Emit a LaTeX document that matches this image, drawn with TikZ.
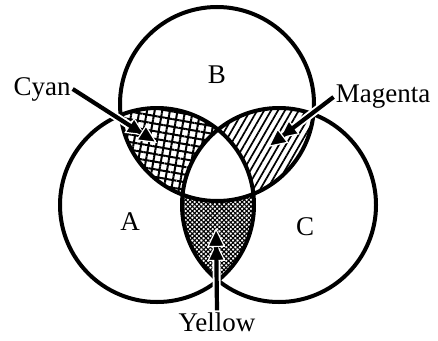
\documentclass[tikz,border=0pt]{standalone}
\usepackage{fontspec}
\setmainfont{Liberation Serif}
\usetikzlibrary{patterns.meta,arrows.meta}

\tikzset{
  ring/.style={line width=4pt},
  lbl/.style={font=\fontsize{27}{29}\selectfont, inner sep=2pt},
  pointer/.style={line width=4.2pt,
    preaction={draw=white, line width=8pt, shorten >=14pt},
    -{Triangle[length=19pt,width=18pt,line width=1.2pt,color=white,fill=black]}},
}

\begin{document}
\begin{tikzpicture}[x=1pt,y=-1pt]
  \useasboundingbox (0,0) rectangle (438,340);

  % Circle centres
  \coordinate (cA) at (157,205);
  \coordinate (cB) at (217,104);
  \coordinate (cC) at (279,205);
  \def\rad{97pt}

  % Cyan: A and B, not C
  \begin{scope}
    \clip (cA) circle (\rad);
    \clip (cB) circle (\rad);
    \fill[pattern={Hatch[angle=-10,distance=7.5pt,line width=2pt]}, even odd rule]
      (0,0) rectangle (438,340) (cC) circle (\rad);
  \end{scope}

  % Magenta: B and C, not A
  \begin{scope}
    \clip (cB) circle (\rad);
    \clip (cC) circle (\rad);
    \fill[pattern={Lines[angle=60,distance=6pt,line width=1.7pt]}, even odd rule]
      (0,0) rectangle (438,340) (cA) circle (\rad);
  \end{scope}

  % Yellow: A and C, not B
  \begin{scope}
    \clip (cA) circle (\rad);
    \clip (cC) circle (\rad);
    \fill[pattern={Hatch[angle=45,distance=3.2pt,line width=1.1pt]}, even odd rule]
      (0,0) rectangle (438,340) (cB) circle (\rad);
  \end{scope}

  % Circles
  \draw[ring] (cA) circle (\rad);
  \draw[ring] (cB) circle (\rad);
  \draw[ring] (cC) circle (\rad);

  % Set labels
  \node[lbl] (lblB) at (217,75) {B};
  \node[lbl] (lblA) at (130,222) {A};
  \node[lbl] (lblC) at (305,227) {C};

  % Colour labels and arrows
  \node[lbl] (lblCyan) at (42,89) {Cyan};
  \node[lbl] (lblMagenta) at (383,97) {Magenta};
  \node[lbl] (lblYellow) at (217,322) {Yellow};
  \coordinate (tipCyan) at (157,143);
  \coordinate (tipMagenta) at (268,147);
  \coordinate (tipYellow) at (216,228);
  \draw[pointer] (lblCyan.east) -- (tipCyan);
  \draw[pointer] (lblMagenta.west) -- (tipMagenta);
  \draw[pointer] (lblYellow.north) -- (tipYellow);

\end{tikzpicture}
\end{document}
